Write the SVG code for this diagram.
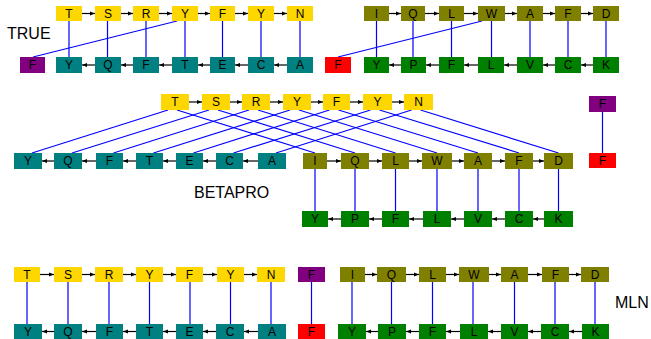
<svg xmlns="http://www.w3.org/2000/svg" width="651" height="339" viewBox="0 0 651 339">
<defs>
<marker id="ah" markerWidth="5" markerHeight="5" refX="5" refY="2.5" orient="auto" markerUnits="userSpaceOnUse"><path d="M0,0.5 L5,2.5 L0,4.5 z" fill="#000"/></marker>
<style>
.y{fill:#FFD700}.t{fill:#008080}.o{fill:#808000}.g{fill:#008000}.p{fill:#800080}.r{fill:#FF0000}
text{font-family:"Liberation Sans",Arial,sans-serif;fill:#000}
.n text{font-size:12px;text-anchor:middle}
.lbl{font-size:16px}
.e line{stroke:#0000FF;stroke-width:1.2}
.a line{stroke:#000;stroke-width:1.2;marker-end:url(#ah)}
</style>
</defs>
<rect width="651" height="339" fill="#fff"/>
<text class="lbl" x="7" y="39">TRUE</text>
<text class="lbl" x="194" y="198">BETAPRO</text>
<text class="lbl" x="615" y="308">MLN</text>

<g id="connectors">
<g class="e">
<!-- TRUE left -->
<line x1="69" y1="21" x2="69" y2="57"/><line x1="107.5" y1="21" x2="107.5" y2="57"/><line x1="146" y1="21" x2="146" y2="57"/><line x1="185" y1="21" x2="185" y2="57"/><line x1="222.5" y1="21" x2="222.5" y2="57"/><line x1="261" y1="21" x2="261" y2="57"/><line x1="300" y1="21" x2="300" y2="57"/>
<line x1="177" y1="21" x2="33" y2="57"/>
<!-- TRUE right -->
<line x1="376.5" y1="21" x2="376.5" y2="57"/><line x1="413" y1="21" x2="413" y2="57"/><line x1="451.5" y1="21" x2="451.5" y2="57"/><line x1="491.5" y1="21" x2="491.5" y2="57"/><line x1="530" y1="21" x2="530" y2="57"/><line x1="568" y1="21" x2="568" y2="57"/><line x1="606" y1="21" x2="606" y2="57"/>
<line x1="482" y1="21" x2="338" y2="57"/>
<!-- BETAPRO crossing -->
<line x1="168" y1="110" x2="32" y2="153"/><line x1="177" y1="110" x2="315" y2="153"/>
<line x1="209" y1="110" x2="72" y2="153"/><line x1="218" y1="110" x2="355" y2="153"/>
<line x1="249" y1="110" x2="113.5" y2="153"/><line x1="258" y1="110" x2="395.5" y2="153"/>
<line x1="290" y1="110" x2="153.5" y2="153"/><line x1="299" y1="110" x2="437" y2="153"/>
<line x1="329.5" y1="110" x2="193.5" y2="153"/><line x1="338.5" y1="110" x2="478" y2="153"/>
<line x1="370.5" y1="110" x2="233.5" y2="153"/><line x1="379.5" y1="110" x2="519" y2="153"/>
<line x1="411.5" y1="110" x2="276" y2="153"/><line x1="420.5" y1="110" x2="558.5" y2="153"/>
<line x1="315" y1="169" x2="315" y2="211"/><line x1="355" y1="169" x2="355" y2="211"/><line x1="395.5" y1="169" x2="395.5" y2="211"/><line x1="437" y1="169" x2="437" y2="211"/><line x1="478" y1="169" x2="478" y2="211"/><line x1="519" y1="169" x2="519" y2="211"/><line x1="558.5" y1="169" x2="558.5" y2="211"/>
<line x1="602.5" y1="112" x2="602.5" y2="153"/>
<!-- MLN -->
<line x1="27" y1="282" x2="27" y2="324"/><line x1="68" y1="282" x2="68" y2="324"/><line x1="109" y1="282" x2="109" y2="324"/><line x1="149.5" y1="282" x2="149.5" y2="324"/><line x1="190" y1="282" x2="190" y2="324"/><line x1="230.5" y1="282" x2="230.5" y2="324"/><line x1="271" y1="282" x2="271" y2="324"/><line x1="311.5" y1="282" x2="311.5" y2="324"/>
<line x1="352" y1="282" x2="352" y2="324"/><line x1="391.5" y1="282" x2="391.5" y2="324"/><line x1="432.5" y1="282" x2="432.5" y2="324"/><line x1="473" y1="282" x2="473" y2="324"/><line x1="514.5" y1="282" x2="514.5" y2="324"/><line x1="555" y1="282" x2="555" y2="324"/><line x1="595" y1="282" x2="595" y2="324"/>
</g>
<g class="a">
<!-- TRUE left -->
<line x1="82" y1="13.5" x2="95" y2="13.5"/><line x1="121" y1="13.5" x2="133" y2="13.5"/><line x1="159" y1="13.5" x2="172" y2="13.5"/><line x1="198" y1="13.5" x2="210" y2="13.5"/><line x1="235" y1="13.5" x2="248" y2="13.5"/><line x1="274" y1="13.5" x2="287" y2="13.5"/>
<line x1="287" y1="65" x2="274" y2="65"/><line x1="248" y1="65" x2="235" y2="65"/><line x1="210" y1="65" x2="198" y2="65"/><line x1="172" y1="65" x2="159" y2="65"/><line x1="133" y1="65" x2="121" y2="65"/><line x1="95" y1="65" x2="82" y2="65"/>
<!-- TRUE right -->
<line x1="389" y1="13.5" x2="401" y2="13.5"/><line x1="425" y1="13.5" x2="439" y2="13.5"/><line x1="464" y1="13.5" x2="478" y2="13.5"/><line x1="505" y1="13.5" x2="517" y2="13.5"/><line x1="543" y1="13.5" x2="555" y2="13.5"/><line x1="581" y1="13.5" x2="593" y2="13.5"/>
<line x1="593" y1="65" x2="581" y2="65"/><line x1="555" y1="65" x2="543" y2="65"/><line x1="517" y1="65" x2="504" y2="65"/><line x1="478" y1="65" x2="464" y2="65"/><line x1="439" y1="65" x2="426" y2="65"/><line x1="401" y1="65" x2="389" y2="65"/>
<!-- BETAPRO -->
<line x1="189" y1="102" x2="202" y2="102"/><line x1="230" y1="102" x2="242" y2="102"/><line x1="270" y1="102" x2="283" y2="102"/><line x1="311" y1="102" x2="323" y2="102"/><line x1="350" y1="102" x2="363" y2="102"/><line x1="392" y1="102" x2="404" y2="102"/>
<line x1="258" y1="161" x2="243" y2="161"/><line x1="216" y1="161" x2="203" y2="161"/><line x1="176" y1="161" x2="163" y2="161"/><line x1="136" y1="161" x2="123" y2="161"/><line x1="96" y1="161" x2="82" y2="161"/><line x1="54" y1="161" x2="42" y2="161"/>
<line x1="327" y1="161" x2="341" y2="161"/><line x1="369" y1="161" x2="382" y2="161"/><line x1="409" y1="161" x2="422" y2="161"/><line x1="452" y1="161" x2="464" y2="161"/><line x1="492" y1="161" x2="505" y2="161"/><line x1="533" y1="161" x2="544" y2="161"/>
<line x1="544" y1="219" x2="533" y2="219"/><line x1="505" y1="219" x2="492" y2="219"/><line x1="464" y1="219" x2="451" y2="219"/><line x1="423" y1="219" x2="409" y2="219"/><line x1="382" y1="219" x2="369" y2="219"/><line x1="341" y1="219" x2="328" y2="219"/>
<!-- MLN -->
<line x1="40" y1="274.5" x2="54" y2="274.5"/><line x1="82" y1="274.5" x2="95" y2="274.5"/><line x1="123" y1="274.5" x2="136" y2="274.5"/><line x1="163" y1="274.5" x2="176" y2="274.5"/><line x1="203" y1="274.5" x2="217" y2="274.5"/><line x1="244" y1="274.5" x2="257" y2="274.5"/>
<line x1="258" y1="331.5" x2="244" y2="331.5"/><line x1="216" y1="331.5" x2="203" y2="331.5"/><line x1="176" y1="331.5" x2="163" y2="331.5"/><line x1="136" y1="331.5" x2="123" y2="331.5"/><line x1="96" y1="331.5" x2="82" y2="331.5"/><line x1="54" y1="331.5" x2="42" y2="331.5"/>
<line x1="365" y1="274.5" x2="377" y2="274.5"/><line x1="406" y1="274.5" x2="419" y2="274.5"/><line x1="446" y1="274.5" x2="459" y2="274.5"/><line x1="489" y1="274.5" x2="501" y2="274.5"/><line x1="528" y1="274.5" x2="542" y2="274.5"/><line x1="569" y1="274.5" x2="581" y2="274.5"/>
<line x1="582" y1="331.5" x2="569" y2="331.5"/><line x1="541" y1="331.5" x2="528" y2="331.5"/><line x1="501" y1="331.5" x2="488" y2="331.5"/><line x1="460" y1="331.5" x2="446" y2="331.5"/><line x1="419" y1="331.5" x2="406" y2="331.5"/><line x1="378" y1="331.5" x2="366" y2="331.5"/>
</g>
</g>

<!-- TRUE left -->
<g class="n" id="tr-top-T"><rect class="y" x="56" y="6" width="26" height="15"/><text x="69" y="17.5">T</text></g>
<g class="n" id="tr-top-S"><rect class="y" x="95" y="6" width="26" height="15"/><text x="108" y="17.5">S</text></g>
<g class="n" id="tr-top-R"><rect class="y" x="133" y="6" width="26" height="15"/><text x="146" y="17.5">R</text></g>
<g class="n" id="tr-top-Y1"><rect class="y" x="172" y="6" width="26" height="15"/><text x="185" y="17.5">Y</text></g>
<g class="n" id="tr-top-F"><rect class="y" x="210" y="6" width="25" height="15"/><text x="222.5" y="17.5">F</text></g>
<g class="n" id="tr-top-Y2"><rect class="y" x="248" y="6" width="26" height="15"/><text x="261" y="17.5">Y</text></g>
<g class="n" id="tr-top-N"><rect class="y" x="287" y="6" width="26" height="15"/><text x="300" y="17.5">N</text></g>
<g class="n" id="tr-bot-Fp"><rect class="p" x="20" y="57" width="25" height="16"/><text x="32.5" y="69">F</text></g>
<g class="n" id="tr-bot-Y"><rect class="t" x="56" y="57" width="26" height="16"/><text x="69" y="69">Y</text></g>
<g class="n" id="tr-bot-Q"><rect class="t" x="95" y="57" width="26" height="16"/><text x="108" y="69">Q</text></g>
<g class="n" id="tr-bot-F"><rect class="t" x="133" y="57" width="26" height="16"/><text x="146" y="69">F</text></g>
<g class="n" id="tr-bot-T"><rect class="t" x="172" y="57" width="26" height="16"/><text x="185" y="69">T</text></g>
<g class="n" id="tr-bot-E"><rect class="t" x="210" y="57" width="25" height="16"/><text x="222.5" y="69">E</text></g>
<g class="n" id="tr-bot-C"><rect class="t" x="248" y="57" width="26" height="16"/><text x="261" y="69">C</text></g>
<g class="n" id="tr-bot-A"><rect class="t" x="287" y="57" width="26" height="16"/><text x="300" y="69">A</text></g>
<!-- TRUE right -->
<g class="n" id="tr-top-I"><rect class="o" x="364" y="6" width="25" height="15"/><text x="376.5" y="17.5">I</text></g>
<g class="n" id="tr-top-Q"><rect class="o" x="401" y="6" width="24" height="15"/><text x="413" y="17.5">Q</text></g>
<g class="n" id="tr-top-L"><rect class="o" x="439" y="6" width="25" height="15"/><text x="451.5" y="17.5">L</text></g>
<g class="n" id="tr-top-W"><rect class="o" x="478" y="6" width="27" height="15"/><text x="491.5" y="17.5">W</text></g>
<g class="n" id="tr-top-A"><rect class="o" x="517" y="6" width="26" height="15"/><text x="530" y="17.5">A</text></g>
<g class="n" id="tr-top-F2"><rect class="o" x="555" y="6" width="26" height="15"/><text x="568" y="17.5">F</text></g>
<g class="n" id="tr-top-D"><rect class="o" x="593" y="6" width="26" height="15"/><text x="606" y="17.5">D</text></g>
<g class="n" id="tr-bot-Fr"><rect class="r" x="325" y="57" width="26" height="16"/><text x="338" y="69">F</text></g>
<g class="n" id="tr-bot-Y2"><rect class="g" x="364" y="57" width="25" height="16"/><text x="376.5" y="69">Y</text></g>
<g class="n" id="tr-bot-P"><rect class="g" x="401" y="57" width="25" height="16"/><text x="413.5" y="69">P</text></g>
<g class="n" id="tr-bot-F2"><rect class="g" x="439" y="57" width="25" height="16"/><text x="451.5" y="69">F</text></g>
<g class="n" id="tr-bot-L"><rect class="g" x="478" y="57" width="26" height="16"/><text x="491" y="69">L</text></g>
<g class="n" id="tr-bot-V"><rect class="g" x="517" y="57" width="26" height="16"/><text x="530" y="69">V</text></g>
<g class="n" id="tr-bot-C2"><rect class="g" x="555" y="57" width="26" height="16"/><text x="568" y="69">C</text></g>
<g class="n" id="tr-bot-K"><rect class="g" x="593" y="57" width="26" height="16"/><text x="606" y="69">K</text></g>

<!-- BETAPRO -->
<g class="n" id="bp-top-T"><rect class="y" x="161" y="94" width="28" height="16"/><text x="175" y="106">T</text></g>
<g class="n" id="bp-top-S"><rect class="y" x="202" y="94" width="28" height="16"/><text x="216" y="106">S</text></g>
<g class="n" id="bp-top-R"><rect class="y" x="242" y="94" width="28" height="16"/><text x="256" y="106">R</text></g>
<g class="n" id="bp-top-Y1"><rect class="y" x="283" y="94" width="28" height="16"/><text x="297" y="106">Y</text></g>
<g class="n" id="bp-top-F"><rect class="y" x="323" y="94" width="27" height="16"/><text x="336.5" y="106">F</text></g>
<g class="n" id="bp-top-Y2"><rect class="y" x="363" y="94" width="29" height="16"/><text x="377.5" y="106">Y</text></g>
<g class="n" id="bp-top-N"><rect class="y" x="404" y="94" width="29" height="16"/><text x="418.5" y="106">N</text></g>
<g class="n" id="bp-t-Y"><rect class="t" x="14" y="153" width="28" height="16"/><text x="28" y="165">Y</text></g>
<g class="n" id="bp-t-Q"><rect class="t" x="54" y="153" width="28" height="16"/><text x="68" y="165">Q</text></g>
<g class="n" id="bp-t-F"><rect class="t" x="96" y="153" width="27" height="16"/><text x="109.5" y="165">F</text></g>
<g class="n" id="bp-t-T"><rect class="t" x="136" y="153" width="27" height="16"/><text x="149.5" y="165">T</text></g>
<g class="n" id="bp-t-E"><rect class="t" x="176" y="153" width="27" height="16"/><text x="189.5" y="165">E</text></g>
<g class="n" id="bp-t-C"><rect class="t" x="216" y="153" width="27" height="16"/><text x="229.5" y="165">C</text></g>
<g class="n" id="bp-t-A"><rect class="t" x="258" y="153" width="28" height="16"/><text x="272" y="165">A</text></g>
<g class="n" id="bp-o-I"><rect class="o" x="303" y="153" width="24" height="16"/><text x="315" y="165">I</text></g>
<g class="n" id="bp-o-Q"><rect class="o" x="341" y="153" width="28" height="16"/><text x="355" y="165">Q</text></g>
<g class="n" id="bp-o-L"><rect class="o" x="382" y="153" width="27" height="16"/><text x="395.5" y="165">L</text></g>
<g class="n" id="bp-o-W"><rect class="o" x="422" y="153" width="30" height="16"/><text x="437" y="165">W</text></g>
<g class="n" id="bp-o-A"><rect class="o" x="464" y="153" width="28" height="16"/><text x="478" y="165">A</text></g>
<g class="n" id="bp-o-F"><rect class="o" x="505" y="153" width="28" height="16"/><text x="519" y="165">F</text></g>
<g class="n" id="bp-o-D"><rect class="o" x="544" y="153" width="29" height="16"/><text x="558.5" y="165">D</text></g>
<g class="n" id="bp-g-Y"><rect class="g" x="302" y="211" width="26" height="16"/><text x="315" y="223">Y</text></g>
<g class="n" id="bp-g-P"><rect class="g" x="341" y="211" width="28" height="16"/><text x="355" y="223">P</text></g>
<g class="n" id="bp-g-F"><rect class="g" x="382" y="211" width="27" height="16"/><text x="395.5" y="223">F</text></g>
<g class="n" id="bp-g-L"><rect class="g" x="423" y="211" width="28" height="16"/><text x="437" y="223">L</text></g>
<g class="n" id="bp-g-V"><rect class="g" x="464" y="211" width="28" height="16"/><text x="478" y="223">V</text></g>
<g class="n" id="bp-g-C"><rect class="g" x="505" y="211" width="28" height="16"/><text x="519" y="223">C</text></g>
<g class="n" id="bp-g-K"><rect class="g" x="544" y="211" width="29" height="16"/><text x="558.5" y="223">K</text></g>
<g class="n" id="bp-Fp"><rect class="p" x="589" y="96" width="27" height="16"/><text x="602.5" y="108">F</text></g>
<g class="n" id="bp-Fr"><rect class="r" x="589" y="153" width="27" height="15"/><text x="602.5" y="164.5">F</text></g>

<!-- MLN -->
<g class="n" id="ml-top-T"><rect class="y" x="14" y="267" width="26" height="15"/><text x="27" y="278.5">T</text></g>
<g class="n" id="ml-top-S"><rect class="y" x="54" y="267" width="28" height="15"/><text x="68" y="278.5">S</text></g>
<g class="n" id="ml-top-R"><rect class="y" x="95" y="267" width="28" height="15"/><text x="109" y="278.5">R</text></g>
<g class="n" id="ml-top-Y1"><rect class="y" x="136" y="267" width="27" height="15"/><text x="149.5" y="278.5">Y</text></g>
<g class="n" id="ml-top-F"><rect class="y" x="176" y="267" width="27" height="15"/><text x="189.5" y="278.5">F</text></g>
<g class="n" id="ml-top-Y2"><rect class="y" x="217" y="267" width="27" height="15"/><text x="230.5" y="278.5">Y</text></g>
<g class="n" id="ml-top-N"><rect class="y" x="257" y="267" width="28" height="15"/><text x="271" y="278.5">N</text></g>
<g class="n" id="ml-Fp"><rect class="p" x="298" y="267" width="27" height="15"/><text x="311.5" y="278.5">F</text></g>
<g class="n" id="ml-t-Y"><rect class="t" x="14" y="324" width="28" height="15"/><text x="28" y="335.5">Y</text></g>
<g class="n" id="ml-t-Q"><rect class="t" x="54" y="324" width="28" height="15"/><text x="68" y="335.5">Q</text></g>
<g class="n" id="ml-t-F"><rect class="t" x="96" y="324" width="27" height="15"/><text x="109.5" y="335.5">F</text></g>
<g class="n" id="ml-t-T"><rect class="t" x="136" y="324" width="27" height="15"/><text x="149.5" y="335.5">T</text></g>
<g class="n" id="ml-t-E"><rect class="t" x="176" y="324" width="27" height="15"/><text x="189.5" y="335.5">E</text></g>
<g class="n" id="ml-t-C"><rect class="t" x="216" y="324" width="28" height="15"/><text x="230" y="335.5">C</text></g>
<g class="n" id="ml-t-A"><rect class="t" x="258" y="324" width="28" height="15"/><text x="272" y="335.5">A</text></g>
<g class="n" id="ml-Fr"><rect class="r" x="298" y="324" width="27" height="15"/><text x="311.5" y="335.5">F</text></g>
<g class="n" id="ml-o-I"><rect class="o" x="340" y="267" width="25" height="15"/><text x="352.5" y="278.5">I</text></g>
<g class="n" id="ml-o-Q"><rect class="o" x="377" y="267" width="29" height="15"/><text x="391.5" y="278.5">Q</text></g>
<g class="n" id="ml-o-L"><rect class="o" x="419" y="267" width="27" height="15"/><text x="432.5" y="278.5">L</text></g>
<g class="n" id="ml-o-W"><rect class="o" x="459" y="267" width="30" height="15"/><text x="474" y="278.5">W</text></g>
<g class="n" id="ml-o-A"><rect class="o" x="501" y="267" width="27" height="15"/><text x="514.5" y="278.5">A</text></g>
<g class="n" id="ml-o-F"><rect class="o" x="542" y="267" width="27" height="15"/><text x="555.5" y="278.5">F</text></g>
<g class="n" id="ml-o-D"><rect class="o" x="581" y="267" width="28" height="15"/><text x="595" y="278.5">D</text></g>
<g class="n" id="ml-g-Y"><rect class="g" x="338" y="324" width="28" height="15"/><text x="352" y="335.5">Y</text></g>
<g class="n" id="ml-g-P"><rect class="g" x="378" y="324" width="28" height="15"/><text x="392" y="335.5">P</text></g>
<g class="n" id="ml-g-F"><rect class="g" x="419" y="324" width="27" height="15"/><text x="432.5" y="335.5">F</text></g>
<g class="n" id="ml-g-L"><rect class="g" x="460" y="324" width="28" height="15"/><text x="474" y="335.5">L</text></g>
<g class="n" id="ml-g-V"><rect class="g" x="501" y="324" width="27" height="15"/><text x="514.5" y="335.5">V</text></g>
<g class="n" id="ml-g-C"><rect class="g" x="541" y="324" width="28" height="15"/><text x="555" y="335.5">C</text></g>
<g class="n" id="ml-g-K"><rect class="g" x="582" y="324" width="27" height="15"/><text x="595.5" y="335.5">K</text></g>
</svg>
